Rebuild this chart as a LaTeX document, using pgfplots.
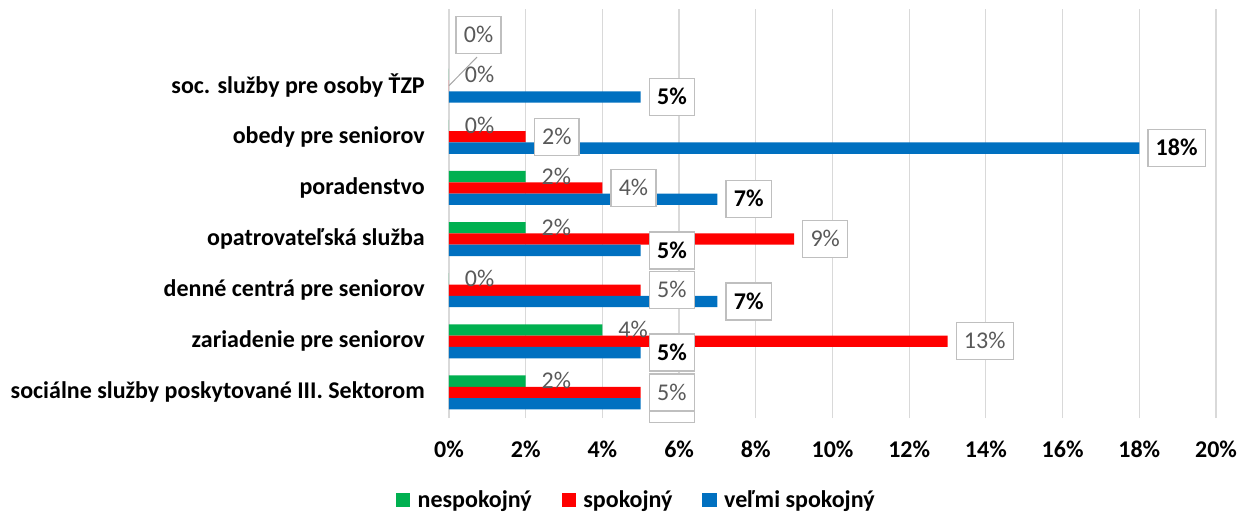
\documentclass[border=0pt]{standalone}
\usepackage{pgfplots}
\pgfplotsset{compat=1.18}
\usepackage{pgfplotstable}
\usepackage{fontspec}
\setmainfont{Carlito}
\definecolor{cgreen}{HTML}{00B050}
\definecolor{cred}{HTML}{FF0000}
\definecolor{cblue}{HTML}{0070C0}
\definecolor{gridgray}{HTML}{D9D9D9}
\definecolor{labgray}{HTML}{595959}
\definecolor{boxgray}{HTML}{BFBFBF}
\definecolor{leadgray}{HTML}{A6A6A6}
\newcommand\cf{\fontsize{18bp}{21.6bp}\selectfont}
\tikzset{lblbase/.style={font=\cf, inner xsep=5.8bp, inner ysep=0pt, minimum height=27.75bp, text height=11.5bp, text depth=0bp}}

\pgfplotstableread{
idx green red blue
0 2 5 5
1 4 13 5
2 0 5 7
3 2 9 5
4 2 4 7
5 0 2 18
6 0 0 5
}\data
\pgfplotstableread{
idx red
0 5
1 13
2 5
3 9
4 4
5 2
}\redlab

\begin{document}
\begin{tikzpicture}
\useasboundingbox (-336.75bp,-71.25bp) rectangle (592.5bp,313.5bp);
\begin{axis}[
  scale only axis, width=575.25bp, height=306.75bp,
  xmin=0, xmax=20, ymin=-0.5, ymax=7.5,
  xbar, bar width=8.5bp,
  clip=false,
  axis line style={draw=none},
  tick style={draw=none},
  major tick length=0pt,
  xmajorgrids, grid style={draw=gridgray, line width=0.9bp},
  xtick={0,2,...,20},
  xticklabel={\pgfmathprintnumber{\tick}\%},
  xticklabel style={font=\cf\bfseries, anchor=base, yshift=-29.25bp},
  ytick={0,...,6},
  yticklabels={sociálne služby poskytované III. Sektorom, zariadenie pre seniorov, denné centrá pre seniorov, opatrovateľská služba, poradenstvo, obedy pre seniorov, soc. služby pre osoby ŤZP},
  yticklabel style={font=\cf\bfseries, anchor=east, inner sep=0pt, xshift=-18bp},
  /pgf/number format/assume math mode=true,
  point meta=x,
  nodes near coords={\pgfmathprintnumber[fixed,precision=0]{\pgfplotspointmeta}\%},
  nodes near coords style={lblbase, anchor=west, xshift=6bp},
  legend columns=3,
  legend style={at={(-0.0695,-0.2007)}, anchor=west, draw=none, fill=none, font=\cf\bfseries,
    inner sep=0pt, nodes={inner sep=2.5bp}},
  legend image code/.code={\fill[#1] (0bp,-5.5bp) rectangle (10.8bp,5.5bp);},
]
% bars
\addplot[fill=cgreen, draw=none, bar shift=8.5bp, nodes near coords=] table[x=green, y=idx] {\data};
\addplot[fill=cred, draw=none, bar shift=0bp, nodes near coords=] table[x=red, y=idx] {\data};
\addplot[fill=cblue, draw=none, bar shift=-8.5bp, nodes near coords=] table[x=blue, y=idx] {\data};
\legend{\hspace*{3bp}nespokojný\hspace*{20bp}, \hspace*{3bp}spokojný\hspace*{20bp}, \hspace*{3bp}veľmi spokojný}
% labels: blue, then red, then green
\addplot[draw=none, fill=none, bar shift=-8.5bp, forget plot,
  every node near coord/.append style={draw=boxgray, line width=1bp, fill=white, text=black, font=\cf\bfseries}]
  table[x=blue, y=idx] {\data};
\addplot[draw=none, fill=none, bar shift=0bp, forget plot,
  every node near coord/.append style={draw=boxgray, line width=1bp, fill=white, text=labgray}]
  table[x=red, y=idx] {\redlab};
\addplot[draw=none, fill=none, bar shift=8.5bp, forget plot,
  every node near coord/.append style={text=labgray}]
  table[x=green, y=idx] {\data};
% moved label of the 0% value (spokojný, soc. služby pre osoby ŤZP)
\draw[draw=leadgray, line width=0.75bp] (axis cs:0,6) -- (axis cs:0.73,6.56);
\node[lblbase, draw=boxgray, line width=1bp, fill=white, text=labgray, anchor=center] at (axis cs:0.77,6.99) {0\%};
\end{axis}
\end{tikzpicture}
\end{document}
